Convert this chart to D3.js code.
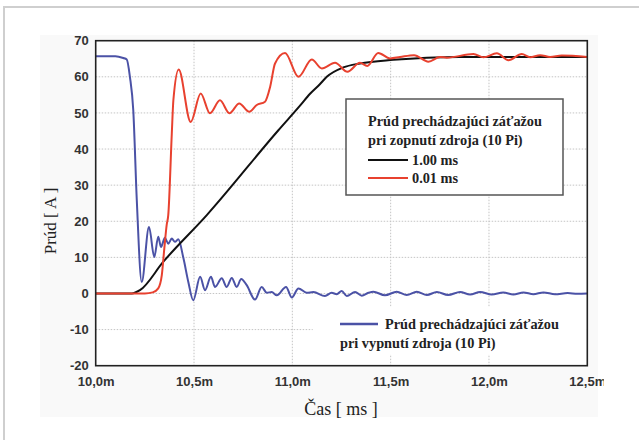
<!DOCTYPE html>
<html>
<head>
<meta charset="utf-8">
<script src="https://cdn.jsdelivr.net/npm/d3@7"></script>
<style>
  html, body { margin: 0; padding: 0; background: #fff; }
  svg { display: block; }
</style>
</head>
<body>
<div id="canvas"></div>
<script>
// ---- data (time in ms, current in A) ----
const xTicks = [10.0, 10.5, 11.0, 11.5, 12.0, 12.5];
const xTickLabels = ['10,0m', '10,5m', '11,0m', '11,5m', '12,0m', '12,5m'];
const yTicks = [-20, -10, 0, 10, 20, 30, 40, 50, 60, 70];

// black: switching on, 1.00 ms
const onSlowT = [10.0, 10.183, 10.225, 10.344, 10.565, 10.929, 11.039, 11.090, 11.141, 11.175, 11.259, 11.344, 11.514, 11.684, 11.853, 12.5];
const onSlowI = [0, 0, 0.9, 8.8, 21.7, 45.2, 52.0, 55.3, 58.0, 60.0, 62.6, 63.7, 64.7, 65.3, 65.5, 65.5];

// red: switching on, 0.01 ms
const onFastT = [10.0, 10.25, 10.29, 10.318, 10.336, 10.349, 10.361, 10.369, 10.387, 10.395, 10.422,
  10.483, 10.534, 10.581, 10.632, 10.680, 10.730, 10.781, 10.819, 10.861, 10.887, 10.912, 10.963,
  11.031, 11.099, 11.150, 11.217, 11.280, 11.344, 11.381, 11.437, 11.497, 11.548, 11.619, 11.692,
  11.751, 11.785, 11.921, 11.972, 12.040, 12.099, 12.167, 12.209, 12.260, 12.311, 12.370, 12.5];
const onFastI = [0, 0, 0.3, 1.4, 5, 12.5, 19, 21.7, 44.3, 53.5, 62.0,
  47.5, 55.4, 49.9, 53.5, 49.9, 52.6, 50.3, 52.2, 53.1, 57.2, 63.7, 66.6,
  60.0, 64.8, 62.3, 63.9, 61.4, 63.9, 63.0, 66.6, 65.1, 65.5, 66.0, 64.2,
  65.5, 65.3, 66.3, 65.4, 66.5, 64.6, 66.3, 65.4, 66.0, 65.5, 65.9, 65.5];

// blue: switching off
const offT = [10.0, 10.10, 10.140, 10.158, 10.174, 10.191, 10.209, 10.234, 10.271, 10.298, 10.318,
  10.332, 10.352, 10.369, 10.387, 10.403, 10.420, 10.446, 10.471, 10.496, 10.531, 10.556, 10.586,
  10.607, 10.641, 10.666, 10.692, 10.717, 10.740, 10.768, 10.810, 10.844, 10.870, 10.895, 10.921,
  10.968, 10.997, 11.031, 11.073, 11.107, 11.166, 11.200, 11.226, 11.251, 11.277, 11.319, 11.353,
  11.387, 11.412, 11.471, 11.531, 11.582, 11.633, 11.684, 11.735, 11.792, 11.853, 11.904, 11.955,
  12.014, 12.073, 12.124, 12.175, 12.226, 12.277, 12.336, 12.40, 12.45, 12.5];
const offI = [65.7, 65.7, 65.2, 64.8, 60.0, 50.8, 25.8, 3.2, 18.4, 10.1, 15.7,
  12.9, 15.4, 13.8, 15.2, 14.3, 15.0, 9.8, 3.2, -1.9, 4.6, 0.9, 4.6,
  1.8, 4.2, 1.8, 4.3, 1.8, 4.0, 2.3, -1.7, 1.8, 0.2, 0.4, -0.5,
  1.8, -1.1, 1.4, 0.2, 0.4, -0.7, 0.2, -0.2, 0.7, -0.7, 0.4, -0.6,
  0.2, 0.5, -0.5, 0.5, -0.4, 0.5, -0.4, 0.4, -0.4, 0.4, -0.3, 0.4,
  -0.3, 0.3, -0.3, 0.3, -0.2, 0.3, -0.2, 0.1, -0.1, 0];

const legendOnTitle = ['Prúd prechádzajúci záťažou', 'pri zopnutí zdroja (10 Pi)'];
const legendOnItems = ['1.00 ms', '0.01 ms'];
const legendOffTitle = ['Prúd prechádzajúci záťažou', 'pri vypnutí zdroja (10 Pi)'];

const cBlack = '#111111', cRed = '#e8412f', cBlue = '#4b52a6';

//dimensions
const W = 639, H = 440;
const margin = { top: 40.7, left: 95.7, right: 51.7, bottom: 74.3 };
const graphWidth = W - margin.left - margin.right;
const graphHeight = H - margin.top - margin.bottom;

const svg = d3.select('#canvas')
  .append('svg')
  .attr('width', W)
  .attr('height', H);

// outer frame and light panel
svg.append('rect')
  .attr('x', 4).attr('y', 7).attr('width', W + 10).attr('height', H + 10)
  .attr('fill', '#fff').attr('stroke', '#cfcfcf').attr('stroke-width', 2);
svg.append('rect')
  .attr('x', 40).attr('y', 35).attr('width', 558).attr('height', 382)
  .attr('fill', '#f9f9f9');

const graph = svg.append('g')
  .attr('transform', `translate(${margin.left}, ${margin.top})`);

graph.append('rect')
  .attr('width', graphWidth).attr('height', graphHeight)
  .attr('fill', '#fff');

//scales
const x = d3.scaleLinear().domain([10.0, 12.5]).range([0, graphWidth]);
const y = d3.scaleLinear().domain([-20, 70]).range([graphHeight, 0]);

// grid
const grid = graph.append('g')
  .attr('stroke', '#c4c4c4')
  .attr('stroke-width', 1)
  .attr('stroke-dasharray', '1.5,1.5');
grid.selectAll('.gy').data(yTicks.slice(1, -1)).enter().append('line')
  .attr('x1', 0).attr('x2', graphWidth)
  .attr('y1', d => y(d)).attr('y2', d => y(d));
grid.selectAll('.gx').data(xTicks.slice(1, -1)).enter().append('line')
  .attr('y1', 0).attr('y2', graphHeight)
  .attr('x1', d => x(d)).attr('x2', d => x(d));

// white patch behind the lower legend
graph.append('rect')
  .attr('x', 217).attr('y', 266).attr('width', graphWidth - 218).attr('height', 48)
  .attr('fill', '#fff');

// lines
const line = d3.line()
  .x(d => x(d[0]))
  .y(d => y(d[1]))
  .curve(d3.curveMonotoneX);

const series = [
  { t: offT, v: offI, color: cBlue },
  { t: onSlowT, v: onSlowI, color: cBlack },
  { t: onFastT, v: onFastI, color: cRed }
];

graph.selectAll('.series').data(series).enter().append('path')
  .attr('fill', 'none')
  .attr('stroke', d => d.color)
  .attr('stroke-width', 2)
  .attr('stroke-linejoin', 'round')
  .attr('d', d => line(d.t.map((t, i) => [t, d.v[i]])));

// frame
graph.append('rect')
  .attr('width', graphWidth).attr('height', graphHeight)
  .attr('fill', 'none').attr('stroke', '#222').attr('stroke-width', 1.6);

// axes
const xAxis = d3.axisBottom(x)
  .tickValues(xTicks)
  .tickSize(0)
  .tickPadding(11)
  .tickFormat((d, i) => xTickLabels[i]);
const yAxis = d3.axisLeft(y)
  .tickValues(yTicks)
  .tickSize(0)
  .tickPadding(7)
  .tickFormat(d => String(d)); // plain hyphen for negatives

const xAxisGroup = graph.append('g')
  .attr('transform', `translate(0, ${graphHeight})`)
  .call(xAxis);
const yAxisGroup = graph.append('g').call(yAxis);

[xAxisGroup, yAxisGroup].forEach(g => {
  g.select('.domain').remove();
  g.selectAll('text')
    .attr('fill', '#333')
    .style('font-family', '"Liberation Sans", Arial, sans-serif')
    .style('font-weight', 'bold')
    .style('font-size', '13px');
});

// last x label is cut by the panel edge
svg.append('clipPath').attr('id', 'panelClipX')
  .append('rect').attr('x', -30).attr('y', -5).attr('width', 46).attr('height', 30);
xAxisGroup.selectAll('.tick').filter((d, i) => i === xTicks.length - 1)
  .select('text').attr('clip-path', 'url(#panelClipX)');

// axis titles
svg.append('text')
  .attr('x', 341).attr('y', 415)
  .attr('text-anchor', 'middle')
  .attr('fill', '#222')
  .style('font-family', '"Liberation Serif", "Times New Roman", serif')
  .style('font-size', '18px')
  .text('Čas [ ms ]');

svg.append('text')
  .attr('transform', 'translate(56, 221) rotate(-90)')
  .attr('text-anchor', 'middle')
  .attr('fill', '#222')
  .style('font-family', '"Liberation Serif", "Times New Roman", serif')
  .style('font-size', '17px')
  .text('Prúd [ A ]');

// legend: switching on (boxed)
const legFont = '"Liberation Serif", "Times New Roman", serif';
const legSize = '14.3px';
const leg1 = svg.append('g');
leg1.append('rect')
  .attr('x', 346).attr('y', 99).attr('width', 217).attr('height', 96)
  .attr('fill', '#fff').attr('stroke', '#555').attr('stroke-width', 1.5);
leg1.selectAll('.lt').data(legendOnTitle).enter().append('text')
  .attr('x', 368).attr('y', (d, i) => 126 + i * 18.5)
  .attr('fill', '#222')
  .style('font-family', legFont).style('font-weight', 'bold').style('font-size', legSize)
  .text(d => d);
leg1.selectAll('.li').data(legendOnItems).enter().append('line')
  .attr('x1', 368).attr('x2', 408)
  .attr('y1', (d, i) => 160 + i * 18).attr('y2', (d, i) => 160 + i * 18)
  .attr('stroke', (d, i) => [cBlack, cRed][i]).attr('stroke-width', 2);
leg1.selectAll('.lx').data(legendOnItems).enter().append('text')
  .attr('x', 412).attr('y', (d, i) => 165 + i * 18)
  .attr('fill', '#222')
  .style('font-family', legFont).style('font-weight', 'bold').style('font-size', legSize)
  .text(d => d);

// legend: switching off (no box)
const leg2 = svg.append('g');
leg2.append('line')
  .attr('x1', 340).attr('x2', 378).attr('y1', 324).attr('y2', 324)
  .attr('stroke', cBlue).attr('stroke-width', 2.5);
leg2.selectAll('text').data(legendOffTitle).enter().append('text')
  .attr('x', (d, i) => i === 0 ? 385 : 340)
  .attr('y', (d, i) => 329 + i * 19)
  .attr('fill', '#222')
  .style('font-family', legFont).style('font-weight', 'bold').style('font-size', legSize)
  .text(d => d);
</script>
</body>
</html>
